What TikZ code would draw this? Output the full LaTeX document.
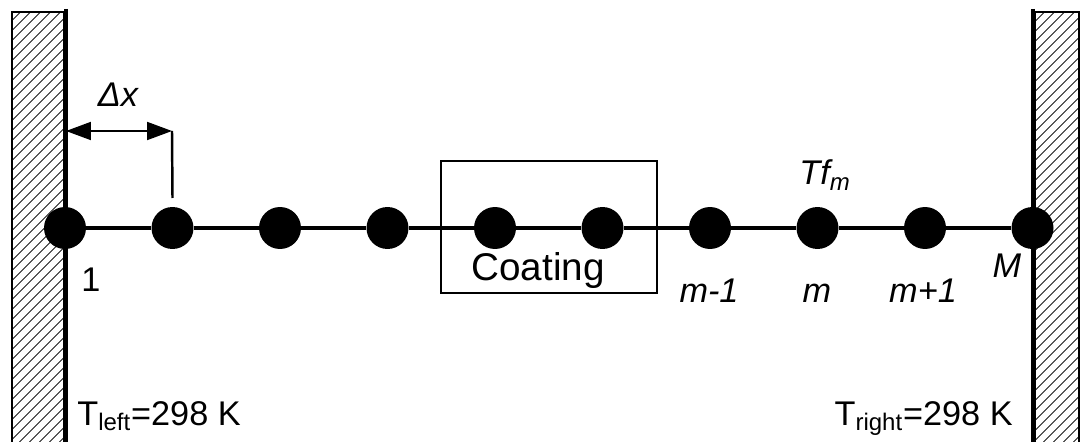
\documentclass[tikz,border=0pt]{standalone}
\usepackage{fontspec}
\setmainfont{Liberation Sans}
\usetikzlibrary{arrows.meta, patterns.meta}

\begin{document}
\begin{tikzpicture}[x=0.02cm, y=-0.02cm,
    every node/.style={font=\fontsize{19.5}{23}\selectfont},
    site/.style={circle, fill=black, inner sep=0pt, minimum size=0.84cm},
    chain/.style={line width=2.4pt},
    wall/.style={line width=2.8pt},
    hatch/.style={pattern={Lines[angle=45,distance=4pt,line width=0.45pt]}, draw=black, line width=0.6pt},
    label/.style={anchor=base, inner sep=0pt}]

    % Fix the picture size
    \useasboundingbox (0,0) rectangle (1085,442);

    % Walls
    \filldraw[hatch] (12,12) rectangle (64,445);
    \filldraw[hatch] (1035,12) rectangle (1079,445);
    \draw[wall] (66,9) -- (66,442);
    \draw[wall] (1033,9) -- (1033,442);

    % Coating box
    \draw[line width=0.8pt] (441,161) rectangle (657,293);
    \node[label] (coat) at (538,280) {\fontsize{22}{26}\selectfont Coating};

    % Grid points
    \foreach \i in {1,...,10}
        \node[site] (n\i) at ({65+107.5*(\i-1)},228) {};
    \foreach \i [evaluate=\i as \j using int(\i+1)] in {1,...,9}
        \draw[chain] (n\i) -- (n\j);

    % Spacing
    \coordinate (dxL) at (66,131);
    \coordinate (dxR) at (172,131);
    \draw[line width=1.4pt] (dxR) -- (n2.north |- 0,198);
    \draw[line width=1.1pt, {Triangle[length=0.5cm,width=0.36cm]}-{Triangle[length=0.5cm,width=0.36cm]}] (dxL) -- (dxR);
    \node[label] (dx) at (118,107) {\itshape Δx};

    % Point labels
    \node[label] (l1) at (91,292) {1};
    \node[label] (lm1) at (709,302) {\itshape m-1};
    \node[label] (lm) at (817,302) {\itshape m};
    \node[label] (lp1) at (923,302) {\itshape m+1};
    \node[label] (lM) at (1007,277) {\itshape M};
    \node[label] (tf) at (825,185) {\itshape Tf\textsubscript{m}};

    % Boundary temperatures
    \node[anchor=base west, inner sep=0pt] (tl) at (77,425) {T\textsubscript{left}=298 K};
    \node[anchor=base east, inner sep=0pt] (tr) at (1013,425) {T\textsubscript{right}=298 K};

\end{tikzpicture}
\end{document}
